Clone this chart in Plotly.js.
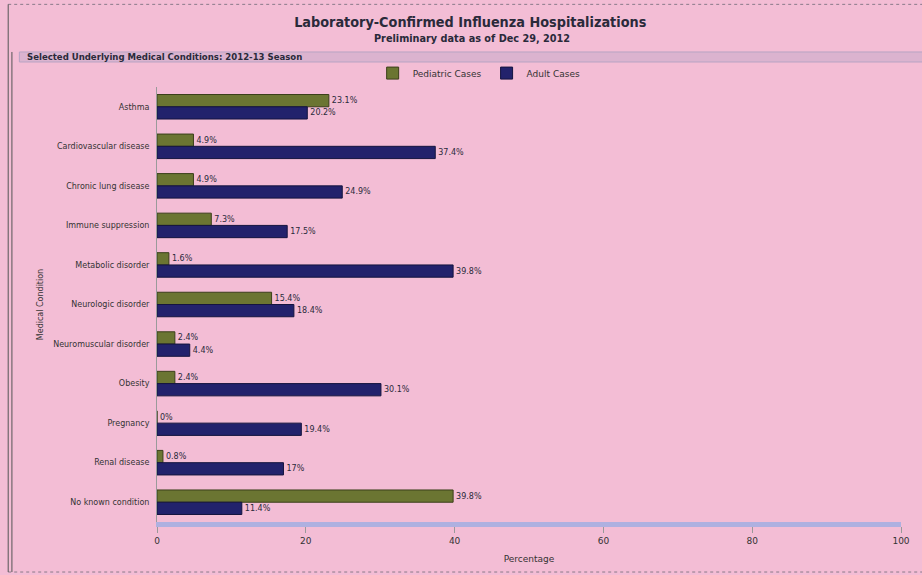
<!DOCTYPE html>
<html>
<head>
<meta charset="utf-8">
<script src="https://cdn.plot.ly/plotly-3.0.1.min.js"></script>
<style>
html,body{margin:0;padding:0;background:#f3bdd5;}
#chart{width:922px;height:575px;}
</style>
</head>
<body>
<div id="chart"></div>
<script>
const categories = ["Asthma","Cardiovascular disease","Chronic lung disease","Immune suppression","Metabolic disorder","Neurologic disorder","Neuromuscular disorder","Obesity","Pregnancy","Renal disease","No known condition"];
const pediatric = [23.1, 4.9, 4.9, 7.3, 1.6, 15.4, 2.4, 2.4, 0, 0.8, 39.8];
const adult = [20.2, 37.4, 24.9, 17.5, 39.8, 18.4, 4.4, 30.1, 19.4, 17, 11.4];
const xTicks = [0, 20, 40, 60, 80, 100];

const bg = '#f3bdd5';
const condFam = 'DejaVu Sans Condensed, Arial Narrow, sans-serif';
const sansFam = 'DejaVu Sans, Verdana, sans-serif';

const traces = [
  {type:'bar', orientation:'h', name:'Pediatric Cases', y:categories, x:pediatric,
   marker:{color:'#6b7532', line:{color:'#3b3f1a', width:1}},
   text:pediatric.map(v=>v+'%'), textposition:'outside', cliponaxis:false,
   textfont:{size:8, color:'#2a2a3a', family:sansFam}},
  {type:'bar', orientation:'h', name:'Adult Cases', y:categories, x:adult,
   marker:{color:'#22226c', line:{color:'#14143f', width:1}},
   text:adult.map(v=>v+'%'), textposition:'outside', cliponaxis:false,
   textfont:{size:8, color:'#2a2a3a', family:sansFam}}
];

const layout = {
  width:922, height:575,
  paper_bgcolor:bg, plot_bgcolor:bg,
  font:{family:sansFam, color:'#333'},
  margin:{l:157, r:21, t:87, b:53},
  barmode:'group', bargap:0.38, bargroupgap:0,
  showlegend:true,
  legend:{orientation:'h', x:0.433, xanchor:'center', y:1.032, yanchor:'middle',
          font:{size:9, color:'#333', family:sansFam}, bgcolor:'rgba(0,0,0,0)',
          itemwidth:30},
  title:{text:'<b>Laboratory-Confirmed Influenza Hospitalizations</b>', x:0.51, xanchor:'center',
         y:0.962, yanchor:'middle', font:{size:14.3, color:'#2a2a3a', family:condFam}},
  xaxis:{range:[0,100], tickvals:xTicks, ticktext:xTicks.map(String),
         showgrid:false, zeroline:false, showline:true, linecolor:'#aeb0e0', linewidth:5,
         ticks:'outside', ticklen:6, tickcolor:'#999', tickfont:{size:9, color:'#333'},
         title:{text:'Percentage', font:{size:9, color:'#333'}, standoff:12}},
  yaxis:{type:'category', autorange:'reversed', showgrid:false, zeroline:false,
         showline:true, linecolor:'#9a9a9a', linewidth:1, ticks:'', ticklabelstandoff:5,
         tickfont:{size:8, color:'#333'},
         title:{text:'Medical Condition', font:{size:8, color:'#333'}, standoff:8}},
  shapes:[
    {type:'rect', xref:'paper', yref:'paper', x0:-0.185, x1:1.03, y0:1.0575, y1:1.0805,
     line:{color:'#b7a3c3', width:1}, fillcolor:'#dbb3cf'},
    {type:'line', xref:'paper', yref:'paper', x0:-0.2, x1:1.03, y0:1.19, y1:1.19,
     line:{color:'#8a7a8a', width:1, dash:'dot'}},
    {type:'line', xref:'paper', yref:'paper', x0:-0.2, x1:1.03, y0:-0.115, y1:-0.115,
     line:{color:'#8a7a8a', width:1, dash:'dot'}},
    {type:'line', xref:'paper', yref:'paper', x0:-0.2, x1:-0.2, y0:-0.115, y1:1.19,
     line:{color:'#555', width:1}},
    {type:'line', xref:'paper', yref:'paper', x0:-0.195, x1:-0.195, y0:-0.115, y1:1.0805,
     line:{color:'#555', width:1}}
  ],
  annotations:[
    {text:'<b>Preliminary data as of Dec 29, 2012</b>', xref:'paper', yref:'paper',
     x:0.423, y:1.1126, xanchor:'center', yanchor:'middle', showarrow:false,
     font:{size:10.8, color:'#2a2a3a', family:condFam}},
    {text:'<b>Selected Underlying Medical Conditions: 2012-13 Season</b>', xref:'paper', yref:'paper',
     x:-0.178, y:1.069, xanchor:'left', yanchor:'middle', showarrow:false,
     font:{size:9.5, color:'#2a2a3a', family:condFam}}
  ]
};

Plotly.newPlot('chart', traces, layout, {displayModeBar:false, staticPlot:true});
</script>
</body>
</html>
